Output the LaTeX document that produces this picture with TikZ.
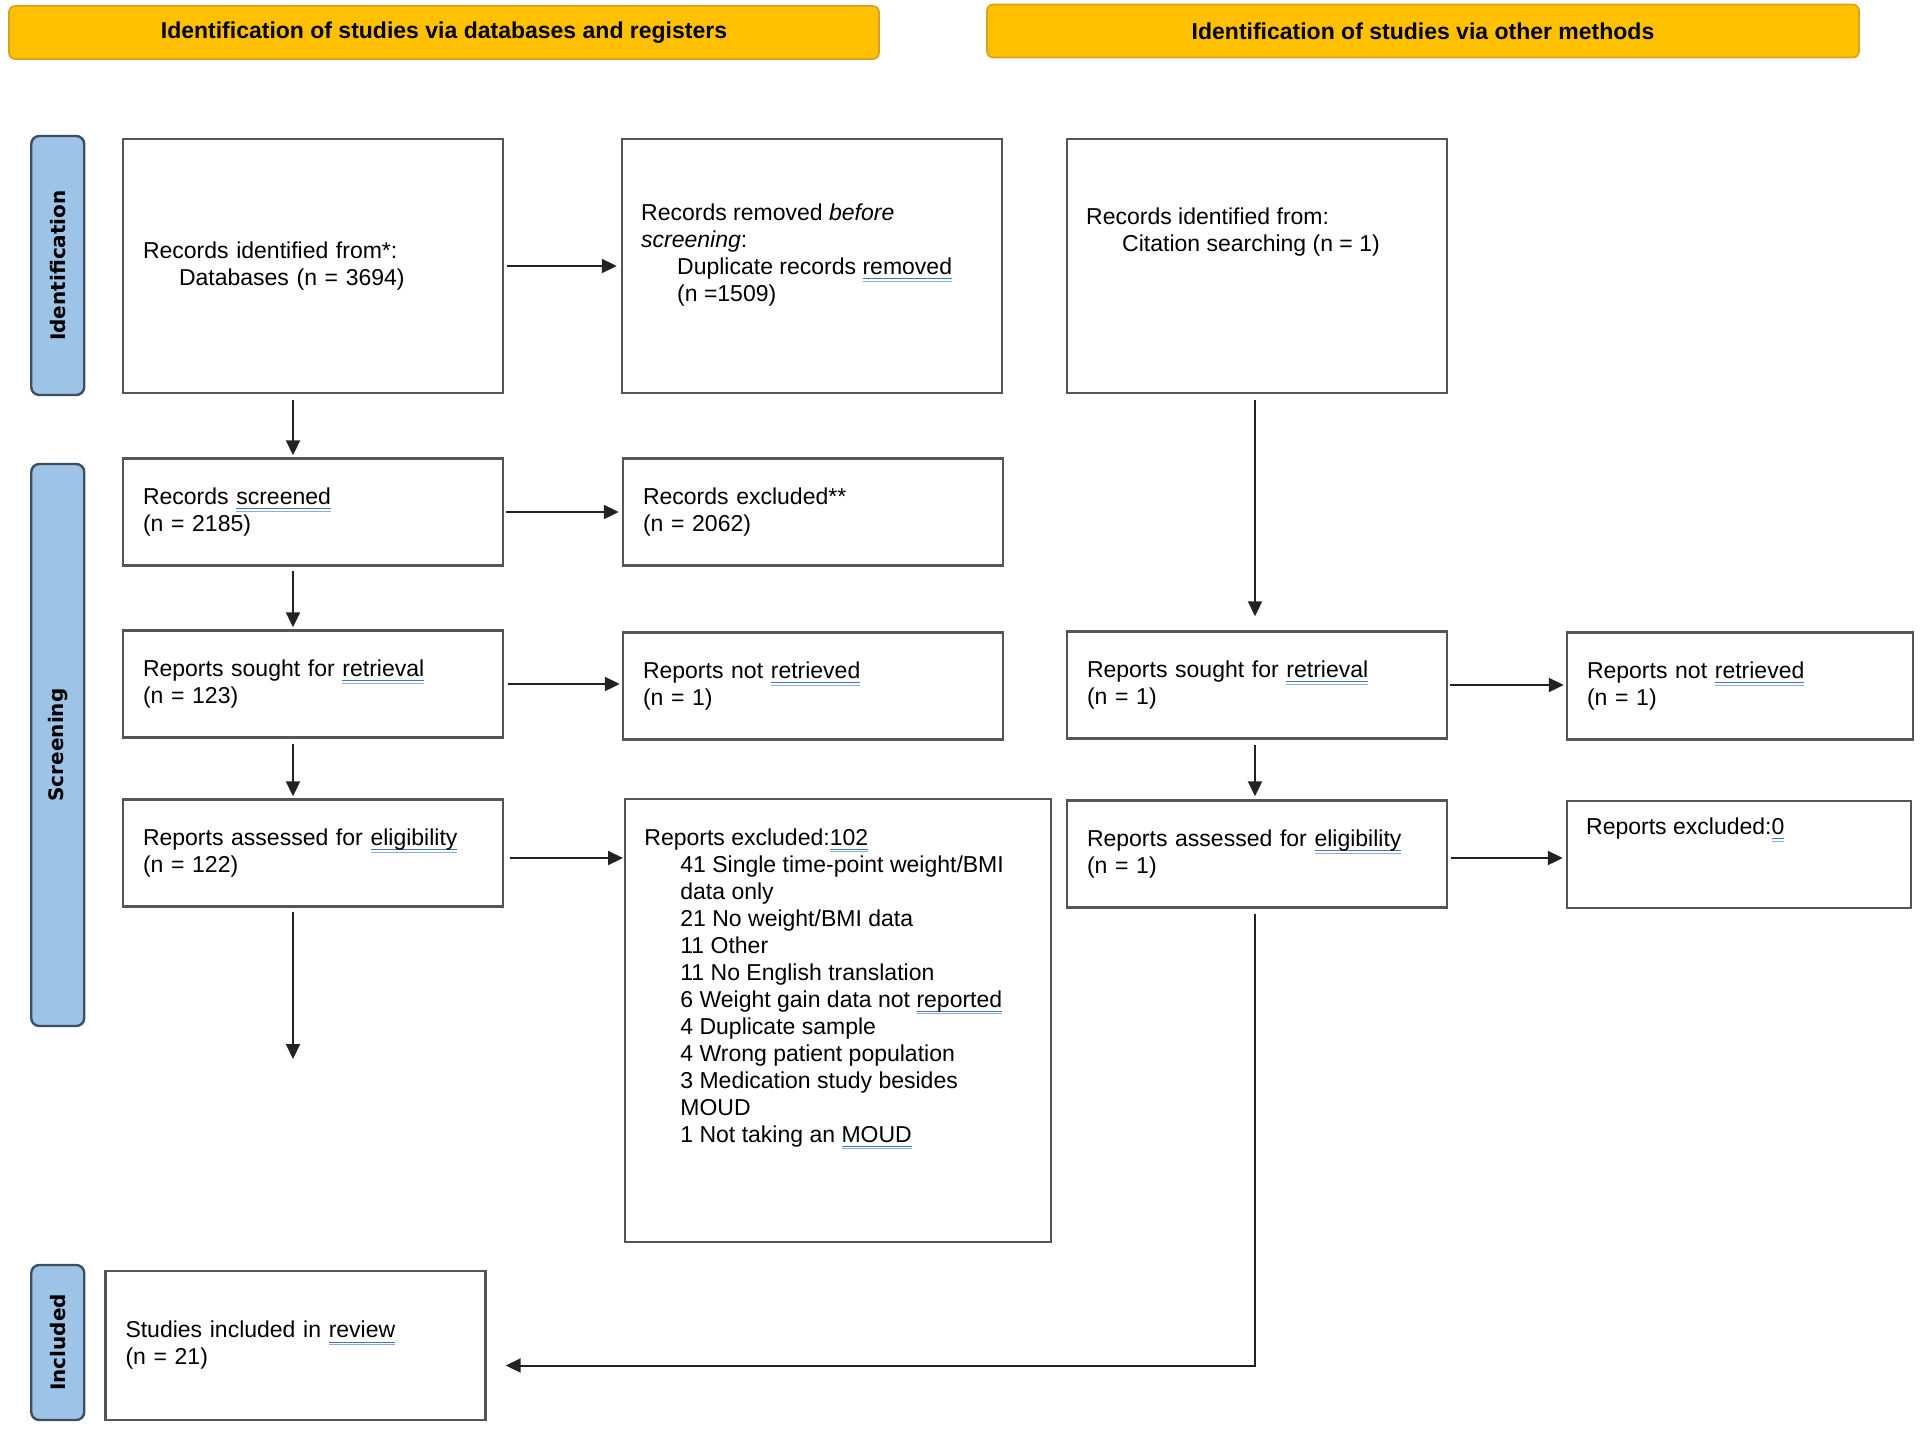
\documentclass[tikz,border=0pt]{standalone}
\usepackage{fontspec}
\setmainfont{Liberation Sans}
\newfontfamily\sidefont{DejaVu Sans}
\usetikzlibrary{arrows.meta,calc}

\definecolor{headfill}{HTML}{FFC000}
\definecolor{headdraw}{HTML}{D9A21E}
\definecolor{sidefill}{HTML}{9DC3E6}
\definecolor{sidedraw}{HTML}{3F4F63}
\definecolor{boxgray}{HTML}{555555}
\definecolor{arrowgray}{HTML}{222222}
\definecolor{spellblue}{HTML}{4472C4}

% blue double underline as in the word processor
\newcommand\spell[1]{\setbox0=\hbox{#1}%
  \rlap{\color{spellblue}\rule[-2.3pt]{\wd0}{0.5pt}}%
  \rlap{\color{spellblue!60}\rule[-3.6pt]{\wd0}{0.5pt}}\box0}

\begin{document}
\begin{tikzpicture}[x=0.5pt, y=-0.5pt,
    head/.style={draw=headdraw, line width=0.8pt, fill=headfill, rounded corners=3pt,
        minimum height=26.5pt, font=\bfseries\fontsize{11.5}{13}\selectfont},
    side/.style={draw=sidedraw, line width=1.2pt, fill=sidefill, rounded corners=4pt,
        rotate=90, minimum height=26.5pt, inner sep=0pt,
        font=\sidefont\bfseries\fontsize{10}{12}\selectfont},
    box/.style={draw=boxgray, line width=1.2pt, fill=white, text width=170pt,
        inner xsep=10pt, inner ysep=0pt, minimum height=53.5pt, align=left,
        font=\fontsize{11.5}{13.5}\selectfont},
    txt/.style={inner sep=0pt, align=left, font=\fontsize{11.5}{13.5}\selectfont},
    arr/.style={draw=arrowgray, line width=1pt, -{Triangle[length=7.5pt,width=7pt]}}]
    \useasboundingbox (0,0) rectangle (1920,1429);

    % 1. Headers
    \node[head, minimum width=435pt] (hdb) at (444,32.5) {Identification of studies via databases and registers};
    \node[head, minimum width=436pt] (hother) at (1423,31) {Identification of studies via other methods};

    % 2. Phase labels
    \node[side, minimum width=129.5pt] (sident) at (57.75,265.5) {Identification};
    \node[side, minimum width=281pt] (sscreen) at (57.75,745) {Screening};
    \node[side, minimum width=77.5pt] (sincl) at (57.75,1342.5) {Included};

    % 3. Databases column
    \node[box, minimum height=127pt] (A) at (313,266) {Records identified from*:\\\hspace*{18pt}Databases (n = 3694)};
    \node[box] (D) at (313,512) {Records \spell{screened}\\(n = 2185)};
    \node[box] (F) at (313,684) {Reports sought for \spell{retrieval}\\(n = 123)};
    \node[box] (J) at (313,853) {Reports assessed for \spell{eligibility}\\(n = 122)};
    \node[box, minimum height=74.5pt] (N) at (295.5,1345.5) {Studies included in \spell{review}\\(n = 21)};

    % 4. Exclusions
    \node[box, minimum height=127pt] (B) at (812,266) {};
    \node[txt, anchor=north west] (Btext) at ([shift={(10pt,-33pt)}]B.north west)
        {Records removed \textit{before}\\\textit{screening}:\\
         \hspace*{18pt}Duplicate records \spell{removed}\\\hspace*{18pt}(n =1509)};
    \node[box] (E) at (813,512) {Records excluded**\\(n = 2062)};
    \node[box] (G) at (813,686) {Reports not \spell{retrieved}\\(n = 1)};
    \node[box, text width=193pt, minimum height=221.5pt, anchor=north west] (K) at (624,798) {};
    \node[txt, anchor=north west] (Ktext) at ([shift={(10pt,-15pt)}]K.north west)
        {Reports excluded:\spell{102}\\
         \hspace*{18pt}41 Single time-point weight/BMI\\
         \hspace*{18pt}data only\\
         \hspace*{18pt}21 No weight/BMI data\\
         \hspace*{18pt}11 Other\\
         \hspace*{18pt}11 No English translation\\
         \hspace*{18pt}6 Weight gain data not \spell{reported}\\
         \hspace*{18pt}4 Duplicate sample\\
         \hspace*{18pt}4 Wrong patient population\\
         \hspace*{18pt}3 Medication study besides\\
         \hspace*{18pt}MOUD\\
         \hspace*{18pt}1 Not taking an \spell{MOUD}};

    % 5. Other methods column
    \node[box, minimum height=127pt] (C) at (1257,266) {};
    \node[txt, anchor=north west] (Ctext) at ([shift={(10pt,-35pt)}]C.north west)
        {Records identified from:\\\hspace*{18pt}Citation searching (n = 1)};
    \node[box] (H) at (1257,685) {Reports sought for \spell{retrieval}\\(n = 1)};
    \node[box] (L) at (1257,854) {Reports assessed for \spell{eligibility}\\(n = 1)};
    \node[box, text width=153pt] (I) at (1740,686) {Reports not \spell{retrieved}\\(n = 1)};
    \node[box, text width=152pt] (M) at (1739,854.5) {};
    \node[txt, anchor=north west] (Mtext) at ([shift={(10pt,-9pt)}]M.north west) {Reports excluded:\spell{0}};

    % 6. Connectors
    \draw[arr, shorten <=1.5pt, shorten >=2pt] (A.east) -- (B.west);
    \draw[arr, shorten <=3pt, shorten >=1pt] ([xshift=-10pt]A.south) -- ([xshift=-10pt]D.north);
    \draw[arr, shorten <=1pt, shorten >=1.5pt] (D.east) -- (E.west);
    \draw[arr, shorten <=2.3pt, shorten >=1pt] ([xshift=-10pt]D.south) -- ([xshift=-10pt]F.north);
    \draw[arr, shorten <=2pt, shorten >=1pt] (F.east) -- (F.east -| G.west);
    \draw[arr, shorten <=2.5pt, shorten >=1pt] ([xshift=-10pt]F.south) -- ([xshift=-10pt]J.north);
    \draw[arr, shorten <=3pt, shorten >=0.5pt] ([yshift=-2.5pt]J.east) -- ([yshift=-2.5pt]J.east -| K.west);
    \coordinate (Jend) at (293,1059);
    \draw[arr, shorten <=2pt] ([xshift=-10pt]J.south) -- (Jend);
    \draw[arr, shorten <=3pt, shorten >=7pt] ([xshift=-1pt]C.south) -- ([xshift=-1pt]H.north);
    \draw[arr, shorten <=1pt, shorten >=1pt] (H.east) -- (H.east -| I.west);
    \draw[arr, shorten <=2.5pt, shorten >=1.5pt] ([xshift=-1pt]H.south) -- ([xshift=-1pt]L.north);
    \draw[arr, shorten <=1.5pt, shorten >=1.5pt] ([yshift=-2pt]L.east) -- ([yshift=-2pt]L.east -| M.west);
    \draw[arr, shorten <=2.5pt, shorten >=9.5pt] ([xshift=-1pt]L.south) |- ([yshift=-10pt]N.east);
\end{tikzpicture}
\end{document}
